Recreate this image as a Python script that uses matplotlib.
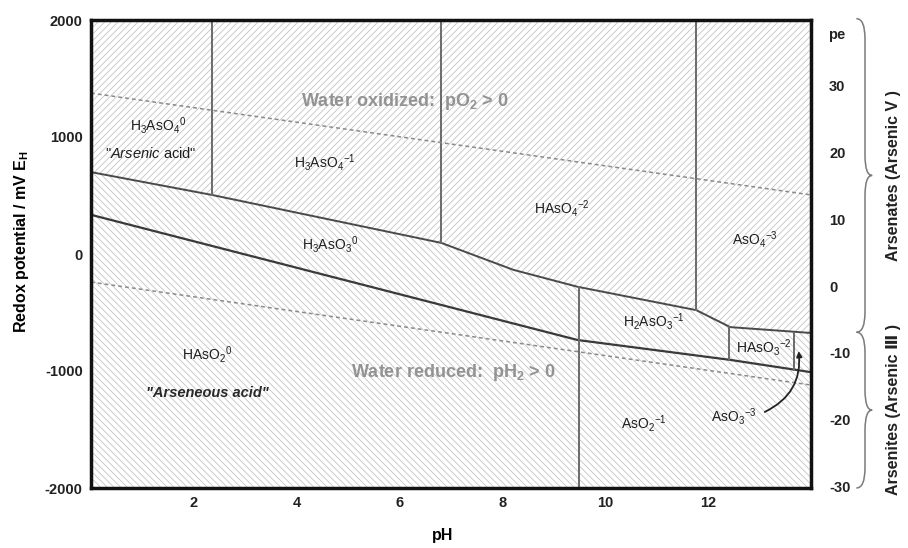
import matplotlib
matplotlib.use("Agg")
import matplotlib.pyplot as plt
import numpy as np
from matplotlib.path import Path
from matplotlib.patches import PathPatch
import matplotlib.transforms as mtransforms

plt.rcParams['font.family'] = ['Liberation Sans', 'DejaVu Sans']
plt.rcParams['mathtext.fontset'] = 'custom'
plt.rcParams['mathtext.rm'] = 'Liberation Sans'
plt.rcParams['mathtext.it'] = 'Liberation Sans:italic'
plt.rcParams['mathtext.bf'] = 'Liberation Sans:bold'
plt.rcParams['hatch.linewidth'] = 0.6
plt.rcParams['hatch.color'] = '#c4c4c4'

# ---- data (pH, Eh in mV) ----
# As(V) / As(III) boundary
upper_ph = [0, 2.35, 6.81, 8.21, 9.46, 11.77, 12.43, 14]
upper_eh = [700, 505, 95, -135, -280, -480, -625, -675]
# lower boundary of H3AsO3 / H2AsO3- / HAsO3-2 band
lower_ph = [0, 9.46, 12.43, 14]
lower_eh = [335, -735, -905, -1010]
# water stability lines
water_ph = [0, 14]
o2_eh = [1375, 505]
h2_eh = [-240, -1120]
# vertical (acid-base) boundaries
vert_ph = [2.35, 6.81, 11.77, 9.48, 12.41, 13.66]
vert_lo = [505, 95, -480, -2000, -905, -990]
vert_hi = [2000, 2000, 2000, -280, -625, -675]

species_labels = [r'H$_3$AsO$_4$$^0$', r'H$_3$AsO$_4$$^{-1}$', r'HAsO$_4$$^{-2}$', r'AsO$_4$$^{-3}$',
                  r'H$_3$AsO$_3$$^0$', r'H$_2$AsO$_3$$^{-1}$', r'HAsO$_3$$^{-2}$', r'AsO$_3$$^{-3}$',
                  r'AsO$_2$$^{-1}$', r'HAsO$_2$$^0$']
species_ph = [1.3, 4.55, 9.15, 12.9, 4.65, 10.95, 13.08, 12.5, 10.75, 2.25]
species_eh = [1100, 780, 385, 120, 77, -580, -795, -1390, -1445, -855]

x_ticks = [2, 4, 6, 8, 10, 12]
y_ticks = [2000, 1000, 0, -1000, -2000]
pe_ticks = [30, 20, 10, 0, -10, -20, -30]

fig = plt.figure(figsize=(9.08, 5.48), dpi=100)
ax = fig.add_axes([91/908, 1-488/548, 720/908, 468/548])
ax.set_xlim(0, 14)
ax.set_ylim(-2000, 2000)

# hatched regions
up_x = np.array(upper_ph, float)
up_y = np.array(upper_eh, float)
ax.fill_between(up_x, up_y, 2000, facecolor='white', hatch='/////', edgecolor='#c4c4c4', linewidth=0)
ax.fill_between(up_x, -2000, up_y, facecolor='white', hatch='\\\\\\\\\\', edgecolor='#c4c4c4', linewidth=0)

# boundaries
ax.plot(upper_ph, upper_eh, color='#4a4a4a', lw=1.4, zorder=3)
ax.plot(lower_ph, lower_eh, color='#3a3a3a', lw=1.6, zorder=3)
for p, lo, hi in zip(vert_ph, vert_lo, vert_hi):
    ax.plot([p, p], [lo, hi], color='#6a6a6a', lw=1.4, zorder=3)
ax.plot(water_ph, o2_eh, color='#8a8a8a', lw=1.1, ls=(0, (2.5, 2)), zorder=3)
ax.plot(water_ph, h2_eh, color='#8a8a8a', lw=1.1, ls=(0, (2.5, 2)), zorder=3)

# species labels
for lab, p, e in zip(species_labels, species_ph, species_eh):
    ax.text(p, e, lab, ha='center', va='center', fontsize=10, color='#1e1e1e', zorder=4)
ax.text(1.17, 860, r'"$\mathit{Arsenic}$ acid"', ha='center', va='center', fontsize=10.5,
        color='#1e1e1e', zorder=4)
ax.text(2.27, -1190, '"Arseneous acid"', ha='center', va='center', fontsize=10.5,
        style='italic', fontweight='bold', color='#2a2a2a', zorder=4)
ax.text(6.1, 1300, r'Water oxidized:  pO$_\mathbf{2}$ > 0', ha='center', va='center', fontsize=13,
        fontweight='bold', color='#939393', zorder=4)
ax.text(7.05, -1015, r'Water reduced:  pH$_\mathbf{2}$ > 0', ha='center', va='center', fontsize=13,
        fontweight='bold', color='#939393', zorder=4)
ax.annotate('', xy=(13.76, -830), xytext=(13.1, -1350),
            arrowprops=dict(arrowstyle='-|>', color='#222222', lw=1.3, mutation_scale=8,
                            connectionstyle='arc3,rad=0.35', shrinkA=0, shrinkB=0), zorder=5)

# axes styling
for s in ax.spines.values():
    s.set_linewidth(2.5)
    s.set_color('#111111')
    s.set_zorder(6)
ax.set_xticks(x_ticks)
ax.set_xticklabels([str(t) for t in x_ticks], fontweight='bold', fontsize=10.5)
ax.set_yticks(y_ticks)
ax.set_yticklabels([str(t) for t in y_ticks], fontweight='bold', fontsize=10.5)
ax.tick_params(axis='both', length=0, colors='#222222')
ax.tick_params(axis='y', pad=6)
ax.tick_params(axis='x', pad=6)
ax.set_xlabel('pH', fontweight='bold', fontsize=11.5)
ax.set_ylabel(r'Redox potential / mV E$_\mathbf{H}$', fontweight='bold', fontsize=11.5)
ax.xaxis.set_label_coords(0.489, -0.086)
ax.yaxis.set_label_coords(-0.083, 0.526)

ax2 = ax.twinx()
ax2.set_ylim(-30.2, 39.8)
ax2.set_yticks(pe_ticks)
ax2.set_yticklabels([str(t) for t in pe_ticks], fontweight='bold', fontsize=10.5)
ax2.tick_params(axis='y', length=0, pad=13, colors='#222222')
for s in ax2.spines.values():
    s.set_visible(False)
trans = mtransforms.blended_transform_factory(ax2.transAxes, ax2.transData)
ax2.text(1.0235, 37.5, 'pe', transform=trans,
         ha='left', va='center', fontweight='bold', fontsize=10.5, color='#222222')

# braces
def brace(y0, y1, a=1.063, b=1.075, c=1.085, d=3.0):
    ym = (y0 + y1) / 2.0
    verts = [(a, y0), (b, y0), (b, y0 - d),
             (b, ym + d),
             (b, ym), (c, ym),
             (b, ym), (b, ym - d),
             (b, y1 + d),
             (b, y1), (a, y1)]
    codes = [Path.MOVETO, Path.CURVE3, Path.CURVE3,
             Path.LINETO,
             Path.CURVE3, Path.CURVE3,
             Path.CURVE3, Path.CURVE3,
             Path.LINETO,
             Path.CURVE3, Path.CURVE3]
    p = PathPatch(Path(verts, codes), transform=trans, fill=False, edgecolor='#7a7a7a',
                  lw=1.1, clip_on=False)
    ax2.add_patch(p)

brace(40.0, -6.9)
brace(-6.9, -30.2)
ax2.text(1.115, 16.5, 'Arsenates (Arsenic V )', transform=trans, rotation=90, ha='center',
         va='center', fontweight='bold', fontsize=11.5, color='#222222')
ax2.text(1.115, -18.5, 'Arsenites (Arsenic \u2162 )', transform=trans, rotation=90, ha='center',
         va='center', fontweight='bold', fontsize=11.5, color='#222222',
         family=['Liberation Sans', 'DejaVu Sans'])

fig.savefig('out.png', dpi=100)
